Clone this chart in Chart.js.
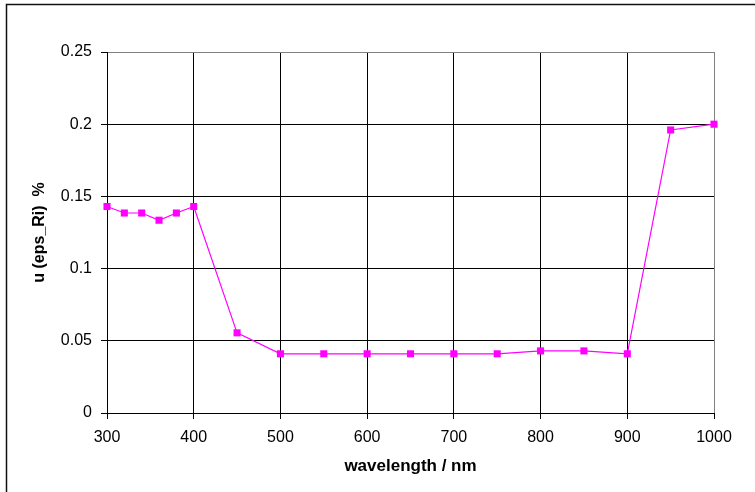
<!DOCTYPE html>
<html>
<head>
<meta charset="utf-8">
<title>u (eps_Ri) vs wavelength</title>
<script src="https://cdn.jsdelivr.net/npm/chart.js@4"></script>
<style>
  html, body { margin: 0; padding: 0; background: #fff; }
  #wrap { width: 755px; height: 492px; position: relative; }
</style>
</head>
<body>
<div id="wrap"><canvas id="chart" width="755" height="492"></canvas></div>
<script>
// uncertainty of eps_Ri (%) per wavelength (nm)
const wavelengths = [300, 320, 340, 360, 380, 400, 450, 500, 550, 600, 650, 700, 750, 800, 850, 900, 950, 1000];
const uncertainty = [0.143, 0.1385, 0.1385, 0.1335, 0.1385, 0.143, 0.0555, 0.041, 0.041, 0.041, 0.041, 0.041, 0.041, 0.043, 0.043, 0.041, 0.196, 0.2];

const xTicks = [300, 400, 500, 600, 700, 800, 900, 1000];
const yTicks = [0, 0.05, 0.1, 0.15, 0.2, 0.25];

const FONT = "'Liberation Sans', Arial, Helvetica, sans-serif";
const MAGENTA = '#FF00FF';

// thin frame around the whole figure
const frame = {
  id: 'frame',
  afterDraw(chart) {
    const c = chart.ctx;
    c.save();
    c.strokeStyle = '#111';
    c.lineWidth = 1.5;
    c.beginPath();
    c.moveTo(6.5, chart.height);
    c.lineTo(6.5, 4.5);
    c.lineTo(chart.width, 4.5);
    c.stroke();
    c.restore();
  }
};

new Chart(document.getElementById('chart'), {
  type: 'line',
  data: {
    datasets: [{
      data: wavelengths.map((w, i) => ({ x: w, y: uncertainty[i] })),
      borderColor: MAGENTA,
      backgroundColor: MAGENTA,
      borderWidth: 1.2,
      tension: 0,
      clip: false,
      pointStyle: 'rect',
      pointRadius: 5,
      pointBorderWidth: 0,
      pointBackgroundColor: MAGENTA
    }]
  },
  options: {
    responsive: false,
    animation: false,
    layout: { padding: { left: 7, right: 41, top: 52, bottom: 0 } },
    plugins: { legend: { display: false }, tooltip: { enabled: false } },
    scales: {
      x: {
        type: 'linear',
        min: 300, max: 1000,
        afterBuildTicks: s => { s.ticks = xTicks.map(v => ({ value: v })); },
        afterFit: s => { s.height = 79; s.paddingLeft = 0; s.paddingRight = 0; },
        grid: {
          color: c => (c.tick && c.tick.value === 1000 ? '#808080' : '#000'),
          tickColor: '#000',
          lineWidth: 1,
          tickLength: 6
        },
        border: { color: '#000', width: 1 },
        ticks: {
          color: '#000',
          padding: 9,
          maxRotation: 0,
          font: { family: FONT, size: 16 },
          callback: v => String(v)
        },
        title: {
          display: true,
          text: 'wavelength / nm',
          color: '#000',
          padding: { top: 0, bottom: 15 },
          font: { family: FONT, size: 17, weight: 'bold' }
        }
      },
      y: {
        min: 0, max: 0.25,
        afterBuildTicks: s => { s.ticks = yTicks.map(v => ({ value: v })); },
        afterFit: s => { s.width = 100; s.paddingTop = 0; s.paddingBottom = 0; },
        grid: {
          color: c => (c.tick && c.tick.value === 0.25 ? '#808080' : '#000'),
          tickColor: '#000',
          lineWidth: 1,
          tickLength: 6
        },
        border: { color: '#000', width: 1 },
        ticks: {
          color: '#000',
          padding: 9,
          font: { family: FONT, size: 16 },
          callback: v => String(v)
        },
        title: {
          display: true,
          text: 'u (eps_Ri)  %',
          color: '#000',
          padding: { top: 23, bottom: 0 },
          font: { family: FONT, size: 16, weight: 'bold' }
        }
      }
    }
  },
  plugins: [frame]
});
</script>
</body>
</html>
